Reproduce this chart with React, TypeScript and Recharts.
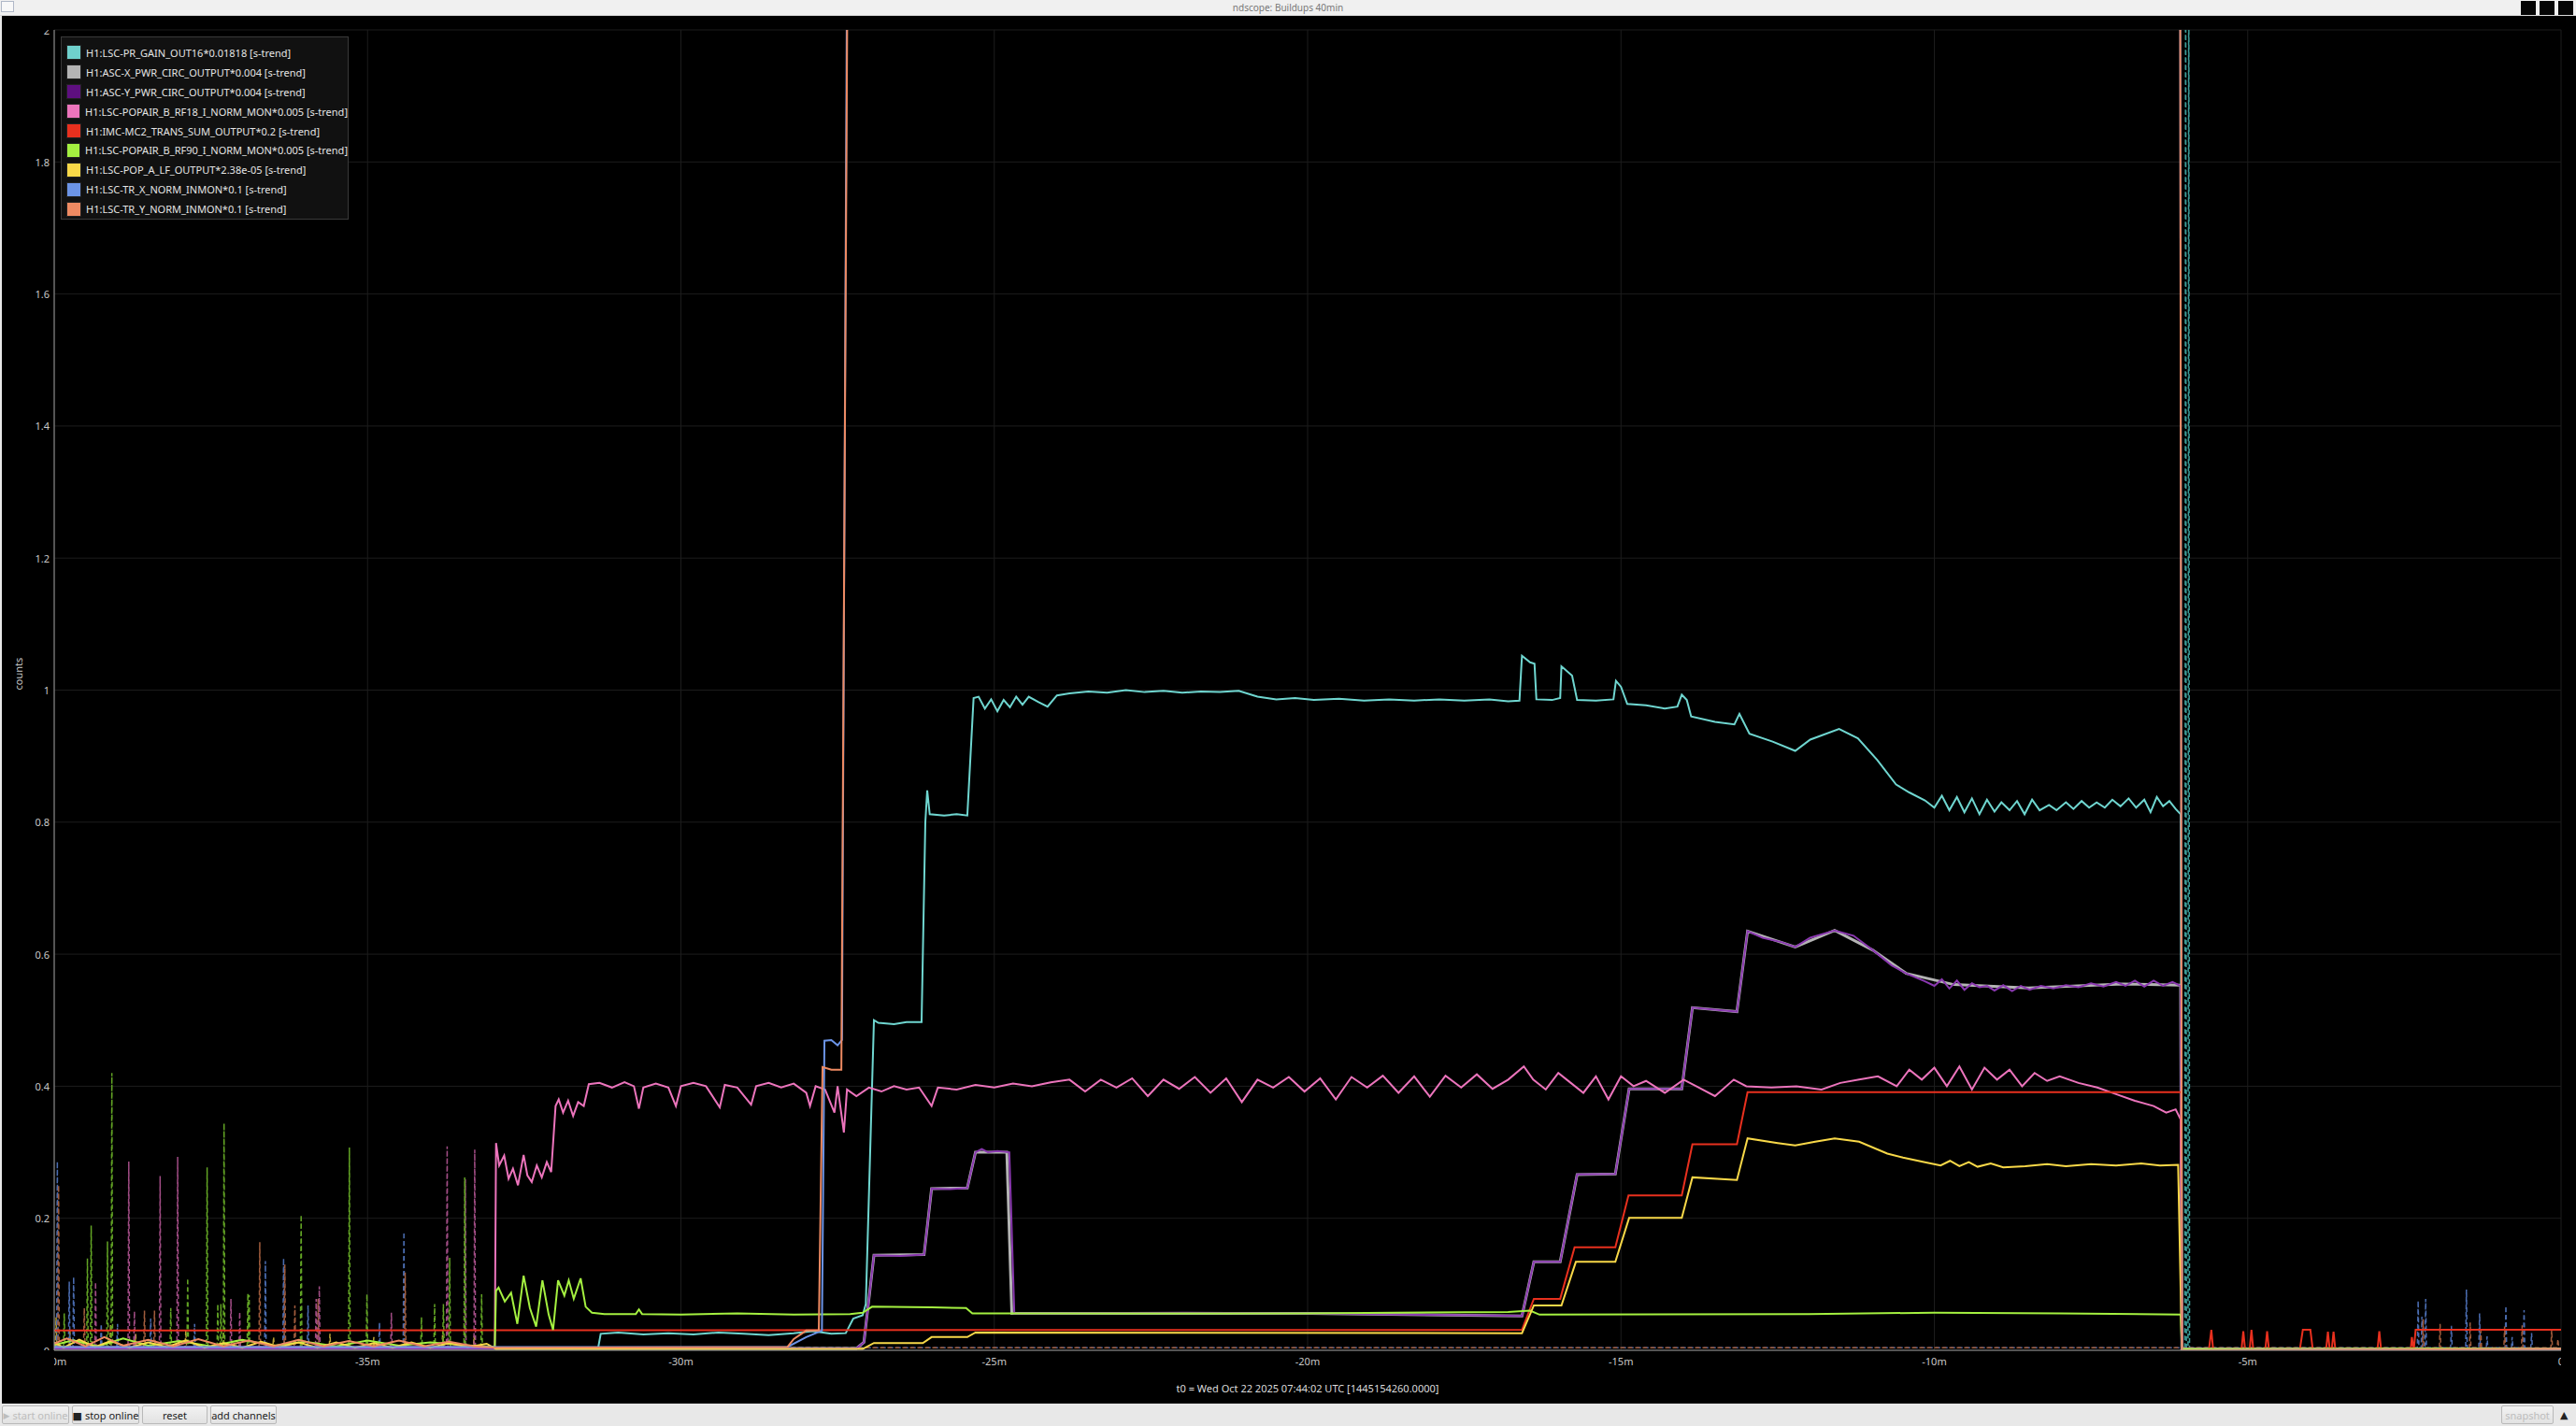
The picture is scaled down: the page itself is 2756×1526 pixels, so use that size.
import React from 'react';
import { LineChart, Line, XAxis, YAxis, CartesianGrid } from 'recharts';

type Pt = [number, number];

// axis ticks (minutes before t0, counts)
const X_TICKS = [-40, -35, -30, -25, -20, -15, -10, -5, 0];
const Y_TICKS = [0, 0.2, 0.4, 0.6, 0.8, 1, 1.2, 1.4, 1.6, 1.8, 2];

const PR_GAIN: Pt[] = [
  [-40, 0.004], [-31.32, 0.004], [-31.28, 0.025], [-31.0, 0.027], [-30.6, 0.024], [-30.2, 0.026],
  [-29.8, 0.024], [-29.4, 0.027], [-29.0, 0.025], [-28.6, 0.023], [-28.2, 0.026], [-27.9, 0.029],
  [-27.6, 0.025], [-27.37, 0.026], [-27.25, 0.048], [-27.1, 0.053], [-27.05, 0.07], [-26.92, 0.5],
  [-26.85, 0.496], [-26.6, 0.494], [-26.4, 0.497], [-26.16, 0.497], [-26.1, 0.8], [-26.07, 0.848],
  [-26.03, 0.812], [-25.8, 0.81], [-25.6, 0.812], [-25.43, 0.81], [-25.33, 0.988], [-25.25, 0.99],
  [-25.15, 0.972], [-25.05, 0.986], [-24.95, 0.968], [-24.85, 0.985], [-24.75, 0.974], [-24.65, 0.99],
  [-24.55, 0.978], [-24.45, 0.99], [-24.3, 0.982], [-24.15, 0.975], [-24.0, 0.992], [-23.8, 0.995],
  [-23.5, 0.998], [-23.2, 0.996], [-22.9, 1.0], [-22.6, 0.997], [-22.3, 0.999], [-22.0, 0.996],
  [-21.7, 0.998], [-21.4, 0.997], [-21.1, 0.999], [-20.8, 0.99], [-20.5, 0.986], [-20.2, 0.988],
  [-19.9, 0.985], [-19.5, 0.987], [-19.1, 0.984], [-18.7, 0.986], [-18.3, 0.984], [-17.9, 0.986],
  [-17.5, 0.984], [-17.1, 0.986], [-16.8, 0.983], [-16.62, 0.984], [-16.58, 1.052], [-16.45, 1.042],
  [-16.38, 1.04], [-16.35, 0.986], [-16.1, 0.985], [-15.97, 0.988], [-15.95, 1.036], [-15.78, 1.022],
  [-15.7, 0.985], [-15.4, 0.984], [-15.12, 0.986], [-15.08, 1.014], [-15.0, 1.005], [-14.9, 0.979],
  [-14.6, 0.977], [-14.3, 0.972], [-14.1, 0.975], [-14.03, 0.993], [-13.95, 0.985], [-13.88, 0.96],
  [-13.5, 0.952], [-13.19, 0.948], [-13.11, 0.964], [-12.95, 0.934], [-12.58, 0.922], [-12.22, 0.908],
  [-11.98, 0.925], [-11.52, 0.941], [-11.22, 0.927], [-10.91, 0.894], [-10.61, 0.857], [-10.4, 0.845],
  [-10.15, 0.833], [-10.0, 0.822], [-9.88, 0.84], [-9.76, 0.818], [-9.64, 0.838], [-9.52, 0.815],
  [-9.4, 0.836], [-9.28, 0.812], [-9.16, 0.834], [-9.04, 0.816], [-8.93, 0.83], [-8.8, 0.818],
  [-8.68, 0.832], [-8.56, 0.812], [-8.44, 0.834], [-8.32, 0.818], [-8.17, 0.826], [-8.05, 0.818],
  [-7.9, 0.83], [-7.78, 0.82], [-7.65, 0.832], [-7.53, 0.822], [-7.41, 0.83], [-7.28, 0.822],
  [-7.16, 0.834], [-7.03, 0.824], [-6.9, 0.836], [-6.78, 0.822], [-6.65, 0.834], [-6.55, 0.815],
  [-6.45, 0.838], [-6.35, 0.824], [-6.25, 0.832], [-6.15, 0.82], [-6.07, 0.812], [-6.05, 0.002],
  [0, 0.003],
];

const ASC_X: Pt[] = [
  [-40, 0.003], [-27.2, 0.003], [-27.08, 0.012], [-26.92, 0.144], [-26.12, 0.145], [-26.0, 0.245],
  [-25.43, 0.246], [-25.3, 0.3], [-24.8, 0.3], [-24.72, 0.056], [-20, 0.056], [-16.58, 0.052],
  [-16.39, 0.134], [-15.97, 0.134], [-15.7, 0.266], [-15.09, 0.267], [-14.87, 0.396], [-14.03, 0.396],
  [-13.86, 0.519], [-13.15, 0.513], [-12.98, 0.635], [-12.22, 0.611], [-11.59, 0.636], [-10.98, 0.606],
  [-10.45, 0.571], [-9.69, 0.554], [-8.5, 0.549], [-7.0, 0.555], [-6.07, 0.553], [-6.05, 0.002],
  [0, 0.002],
];

const ASC_Y: Pt[] = [
  [-40, 0.003], [-27.2, 0.003], [-27.08, 0.012], [-26.92, 0.144], [-26.5, 0.143], [-26.12, 0.145],
  [-26.0, 0.245], [-25.7, 0.244], [-25.43, 0.246], [-25.3, 0.3], [-25.2, 0.305], [-25.1, 0.3],
  [-24.95, 0.302], [-24.76, 0.3], [-24.68, 0.056], [-22, 0.057], [-20, 0.056], [-17.3, 0.053],
  [-16.58, 0.052], [-16.39, 0.134], [-15.97, 0.134], [-15.7, 0.2665], [-15.09, 0.267], [-14.87, 0.396],
  [-14.03, 0.396], [-13.86, 0.519], [-13.5, 0.516], [-13.15, 0.513], [-12.98, 0.635], [-12.74, 0.625],
  [-12.43, 0.618], [-12.22, 0.611], [-11.98, 0.625], [-11.59, 0.636], [-11.29, 0.628], [-10.98, 0.606],
  [-10.68, 0.583], [-10.45, 0.571], [-10.15, 0.559], [-10.0, 0.552], [-9.88, 0.562], [-9.76, 0.548],
  [-9.64, 0.56], [-9.52, 0.546], [-9.4, 0.556], [-9.28, 0.55], [-9.16, 0.552], [-9.04, 0.545],
  [-8.9, 0.553], [-8.76, 0.544], [-8.62, 0.552], [-8.48, 0.546], [-8.3, 0.552], [-8.1, 0.548],
  [-7.9, 0.553], [-7.7, 0.55], [-7.5, 0.556], [-7.3, 0.551], [-7.1, 0.558], [-6.95, 0.552],
  [-6.8, 0.56], [-6.65, 0.551], [-6.5, 0.56], [-6.35, 0.552], [-6.2, 0.558], [-6.07, 0.552],
  [-6.05, 0.002], [0, 0.002],
];

const RF18: Pt[] = [
  [-40, 0.005], [-32.97, 0.005], [-32.95, 0.314], [-32.9, 0.28], [-32.82, 0.295], [-32.75, 0.26],
  [-32.68, 0.275], [-32.6, 0.25], [-32.51, 0.296], [-32.45, 0.265], [-32.38, 0.255], [-32.3, 0.28],
  [-32.22, 0.262], [-32.14, 0.285], [-32.07, 0.27], [-32.0, 0.37], [-31.95, 0.38], [-31.88, 0.36],
  [-31.8, 0.378], [-31.72, 0.355], [-31.64, 0.376], [-31.55, 0.37], [-31.47, 0.403], [-31.3, 0.405],
  [-31.1, 0.398], [-30.9, 0.406], [-30.75, 0.4], [-30.67, 0.366], [-30.6, 0.398], [-30.4, 0.404],
  [-30.2, 0.398], [-30.08, 0.37], [-30.0, 0.4], [-29.8, 0.405], [-29.6, 0.4], [-29.38, 0.368],
  [-29.3, 0.402], [-29.1, 0.398], [-28.88, 0.372], [-28.8, 0.4], [-28.6, 0.405], [-28.4, 0.398],
  [-28.2, 0.404], [-28.0, 0.39], [-27.94, 0.37], [-27.85, 0.4], [-27.7, 0.395], [-27.55, 0.36],
  [-27.5, 0.4], [-27.4, 0.33], [-27.35, 0.395], [-27.2, 0.385], [-27.0, 0.398], [-26.8, 0.392],
  [-26.6, 0.4], [-26.4, 0.395], [-26.2, 0.398], [-26.0, 0.37], [-25.9, 0.398], [-25.6, 0.395],
  [-25.3, 0.402], [-25.0, 0.398], [-24.7, 0.404], [-24.4, 0.4], [-24.1, 0.406], [-23.8, 0.41],
  [-23.55, 0.392], [-23.3, 0.41], [-23.05, 0.398], [-22.8, 0.412], [-22.55, 0.385], [-22.3, 0.41],
  [-22.05, 0.396], [-21.8, 0.414], [-21.55, 0.39], [-21.3, 0.412], [-21.05, 0.376], [-20.8, 0.41],
  [-20.55, 0.398], [-20.3, 0.414], [-20.05, 0.392], [-19.8, 0.412], [-19.55, 0.38], [-19.3, 0.414],
  [-19.05, 0.398], [-18.8, 0.416], [-18.55, 0.39], [-18.3, 0.415], [-18.05, 0.384], [-17.8, 0.416],
  [-17.55, 0.398], [-17.3, 0.418], [-17.05, 0.396], [-16.8, 0.41], [-16.55, 0.43], [-16.4, 0.41],
  [-16.2, 0.395], [-16.0, 0.42], [-15.8, 0.405], [-15.6, 0.39], [-15.4, 0.415], [-15.2, 0.38],
  [-15.0, 0.415], [-14.8, 0.4], [-14.6, 0.408], [-14.3, 0.39], [-14.0, 0.41], [-13.8, 0.4],
  [-13.5, 0.385], [-13.2, 0.41], [-13.0, 0.4], [-12.6, 0.398], [-12.2, 0.4], [-11.8, 0.395],
  [-11.5, 0.405], [-11.2, 0.41], [-10.9, 0.415], [-10.6, 0.4], [-10.4, 0.425], [-10.2, 0.41],
  [-10.0, 0.428], [-9.8, 0.4], [-9.6, 0.43], [-9.4, 0.395], [-9.2, 0.428], [-9.0, 0.41],
  [-8.8, 0.425], [-8.6, 0.4], [-8.4, 0.42], [-8.2, 0.408], [-8.0, 0.415], [-7.7, 0.405],
  [-7.4, 0.398], [-7.1, 0.388], [-6.8, 0.378], [-6.5, 0.37], [-6.3, 0.36], [-6.15, 0.365],
  [-6.07, 0.35], [-6.05, 0.002], [0, 0.002],
];

const MC2_TRANS: Pt[] = [
  [-40, 0.03], [-16.58, 0.031], [-16.39, 0.078], [-15.97, 0.078], [-15.74, 0.156], [-15.09, 0.156],
  [-14.88, 0.2345], [-14.03, 0.2345], [-13.86, 0.312], [-13.15, 0.312], [-12.98, 0.391],
  [-6.06, 0.391], [-6.05, 0.0], [-5.62, 0.0], [-5.58, 0.031], [-5.55, 0.0], [-5.1, 0.0],
  [-5.07, 0.029], [-5.04, 0.0], [-4.97, 0.0], [-4.94, 0.031], [-4.91, 0.0], [-4.72, 0.0],
  [-4.69, 0.029], [-4.66, 0.0], [-4.17, 0.0], [-4.12, 0.031], [-4.0, 0.031], [-3.96, 0.0],
  [-3.75, 0.0], [-3.72, 0.028], [-3.69, 0.0], [-3.66, 0.0], [-3.63, 0.028], [-3.6, 0.0],
  [-2.93, 0.0], [-2.9, 0.029], [-2.87, 0.0], [-2.4, 0.0], [-2.38, 0.02], [-2.35, 0.0],
  [-2.32, 0.031], [0, 0.031],
];

const RF90: Pt[] = [
  [-40, 0.008], [-39.7, 0.015], [-39.3, 0.006], [-38.9, 0.018], [-38.5, 0.007], [-38.0, 0.014],
  [-37.5, 0.006], [-37.0, 0.016], [-36.5, 0.007], [-36.0, 0.013], [-35.5, 0.006], [-35.0, 0.015],
  [-34.5, 0.007], [-34.0, 0.012], [-33.5, 0.008], [-32.97, 0.005], [-32.95, 0.09], [-32.91, 0.095],
  [-32.81, 0.074], [-32.71, 0.087],
  [-32.61, 0.04], [-32.51, 0.113], [-32.41, 0.064], [-32.31, 0.036], [-32.21, 0.106], [-32.11, 0.054],
  [-32.04, 0.031], [-31.96, 0.106], [-31.86, 0.083], [-31.79, 0.106], [-31.71, 0.078], [-31.6, 0.109],
  [-31.52, 0.066], [-31.42, 0.057], [-31.22, 0.055], [-30.72, 0.055], [-30.67, 0.062], [-30.62, 0.055],
  [-30.0, 0.054], [-29.1, 0.056], [-28.2, 0.054], [-27.3, 0.055], [-27.1, 0.057], [-26.95, 0.066],
  [-26.0, 0.065], [-25.45, 0.064], [-25.35, 0.056], [-20, 0.056], [-16.8, 0.058], [-16.45, 0.06],
  [-16.3, 0.054], [-12, 0.055], [-10, 0.057], [-8, 0.056], [-6.07, 0.054], [-6.05, 0.002],
  [0, 0.003],
];

const POP_A_LF: Pt[] = [
  [-40, 0.012], [-39.85, 0.004], [-39.6, 0.016], [-39.35, 0.005], [-39.1, 0.014], [-38.8, 0.004],
  [-38.5, 0.012], [-38.2, 0.005], [-37.9, 0.015], [-37.6, 0.004], [-37.3, 0.011], [-37.0, 0.004],
  [-36.7, 0.013], [-36.4, 0.005], [-36.1, 0.012], [-35.8, 0.004], [-35.5, 0.012], [-35.2, 0.004],
  [-34.9, 0.011], [-34.6, 0.004], [-34.3, 0.012], [-34.0, 0.004], [-33.7, 0.011], [-33.4, 0.005],
  [-33.1, 0.01], [-32.95, 0.002],
  [-27.1, 0.002], [-26.92, 0.011], [-26.14, 0.011], [-26.0, 0.02], [-25.43, 0.02],
  [-25.3, 0.027], [-16.58, 0.026], [-16.39, 0.068], [-15.95, 0.068], [-15.72, 0.134], [-15.09, 0.134],
  [-14.87, 0.2005], [-14.03, 0.2005], [-13.86, 0.262], [-13.15, 0.258], [-12.98, 0.321], [-12.5, 0.314],
  [-12.22, 0.3105], [-11.9, 0.316], [-11.59, 0.321], [-11.2, 0.316], [-10.75, 0.298], [-10.5, 0.292],
  [-10.15, 0.285], [-9.9, 0.28], [-9.75, 0.287], [-9.6, 0.279], [-9.45, 0.285], [-9.31, 0.278],
  [-9.1, 0.283], [-8.9, 0.277], [-8.55, 0.279], [-8.2, 0.282], [-7.9, 0.279], [-7.5, 0.282],
  [-7.1, 0.28], [-6.7, 0.283], [-6.4, 0.28], [-6.11, 0.281], [-6.05, 0.0], [0, 0.002],
];

const TR_X: Pt[] = [
  [-40, 0.005], [-28.3, 0.005], [-28.0, 0.02], [-27.75, 0.03], [-27.71, 0.469], [-27.6, 0.47],
  [-27.5, 0.462], [-27.43, 0.47], [-27.34, 2.3], [-6.08, 2.3], [-6.05, 0.0], [0, 0.002],
];

const TR_Y: Pt[] = [
  [-40, 0.01], [-39.8, 0.018], [-39.5, 0.006], [-39.2, 0.02], [-38.9, 0.007], [-38.5, 0.016],
  [-38.1, 0.006], [-37.7, 0.017], [-37.3, 0.006], [-36.9, 0.015], [-36.5, 0.006], [-36.1, 0.016],
  [-35.7, 0.006], [-35.3, 0.014], [-34.9, 0.006], [-34.5, 0.015], [-34.1, 0.006], [-33.7, 0.013],
  [-33.3, 0.006], [-32.95, 0.004],
  [-28.3, 0.005], [-28.2, 0.017], [-28.0, 0.03], [-27.8, 0.03], [-27.74, 0.429],
  [-27.6, 0.425], [-27.44, 0.425], [-27.33, 2.3], [-6.08, 2.3], [-6.05, 0.0], [0, 0.002],
];

// peaks of the min/max (dashed) traces in the noisy stretches
const RF90_PEAKS: Pt[] = [
  [-39.84, 0.056], [-39.47, 0.139], [-39.41, 0.189], [-39.15, 0.165], [-39.08, 0.42], [-38.14, 0.064],
  [-37.87, 0.109], [-37.56, 0.277], [-37.39, 0.07], [-37.34, 0.07], [-37.29, 0.344], [-36.91, 0.086],
  [-36.89, 0.084], [-36.06, 0.205], [-35.29, 0.307], [-35.01, 0.085], [-34.14, 0.05], [-33.93, 0.07],
  [-33.79, 0.07], [-33.69, 0.14], [-33.45, 0.262], [-33.18, 0.085],
];
const RF18_PEAKS: Pt[] = [
  [-39.34, 0.103], [-38.81, 0.286], [-38.72, 0.059], [-38.31, 0.264], [-38.03, 0.293], [-37.18, 0.078],
  [-37.04, 0.058], [-35.82, 0.078], [-35.77, 0.097], [-34.62, 0.057], [-33.73, 0.309], [-33.44, 0.259],
  [-33.29, 0.304],
];
const TR_X_PEAKS: Pt[] = [
  [-39.95, 0.286], [-39.76, 0.104], [-39.69, 0.111], [-39.25, 0.04], [-38.99, 0.04], [-38.46, 0.048],
  [-37.76, 0.04], [-36.63, 0.135], [-36.34, 0.139], [-35.95, 0.068], [-34.81, 0.042], [-34.42, 0.179],
  [-2.28, 0.075], [-2.22, 0.051], [-2.16, 0.078], [-1.75, 0.037], [-1.51, 0.092], [-1.3, 0.056],
  [-1.18, 0.021], [-0.88, 0.067], [-0.78, 0.02], [-0.59, 0.061], [-0.47, 0.026],
];
const TR_Y_PEAKS: Pt[] = [
  [-39.93, 0.25], [-39.52, 0.064], [-38.56, 0.06], [-38.4, 0.06], [-36.72, 0.164], [-36.32, 0.13],
  [-36.16, 0.068], [-35.79, 0.078], [-34.4, 0.118],
  [-2.2, 0.047], [-1.93, 0.04], [-1.45, 0.042], [-1.28, 0.03], [-0.9, 0.036], [-0.62, 0.038],
  [-0.15, 0.031], [-0.05, 0.017],
];
const POP_A_LF_PEAKS: Pt[] = [
  [-39.97, 0.05], [-39.75, 0.03], [-39.1, 0.04], [-38.7, 0.025], [-37.9, 0.03], [-37.3, 0.028],
  [-36.5, 0.02], [-35.6, 0.025], [-34.9, 0.02], [-33.8, 0.03], [-33.3, 0.022],
];
const PR_GAIN_PEAKS: Pt[] = [[-5.99, 2.3], [-5.94, 2.3]];

const CHANNELS = [
  { name: 'H1:LSC-PR_GAIN_OUT16*0.01818 [s-trend]', color: '#6fd6d0', swatch: '#6fd0cc', data: PR_GAIN },
  { name: 'H1:ASC-X_PWR_CIRC_OUTPUT*0.004 [s-trend]', color: '#b4b4b4', swatch: '#b4b4b4', data: ASC_X },
  { name: 'H1:ASC-Y_PWR_CIRC_OUTPUT*0.004 [s-trend]', color: '#8a38b0', swatch: '#5e0f80', data: ASC_Y },
  { name: 'H1:LSC-POPAIR_B_RF18_I_NORM_MON*0.005 [s-trend]', color: '#ec74bc', swatch: '#ec74bc', data: RF18 },
  { name: 'H1:IMC-MC2_TRANS_SUM_OUTPUT*0.2 [s-trend]', color: '#e8301e', swatch: '#e8301e', data: MC2_TRANS },
  { name: 'H1:LSC-POPAIR_B_RF90_I_NORM_MON*0.005 [s-trend]', color: '#a4f040', swatch: '#a4f040', data: RF90 },
  { name: 'H1:LSC-POP_A_LF_OUTPUT*2.38e-05 [s-trend]', color: '#f8d848', swatch: '#f8d848', data: POP_A_LF },
  { name: 'H1:LSC-TR_X_NORM_INMON*0.1 [s-trend]', color: '#6c94e6', swatch: '#6c94e6', data: TR_X },
  { name: 'H1:LSC-TR_Y_NORM_INMON*0.1 [s-trend]', color: '#ee8a62', swatch: '#ee8a62', data: TR_Y },
];

const SPIKES = [
  { key: 'cyanMax', color: '#3c9c98', data: PR_GAIN_PEAKS },
  { key: 'yellowMax', color: '#b8a034', data: POP_A_LF_PEAKS },
  { key: 'blueMax', color: '#4a6cb0', data: TR_X_PEAKS },
  { key: 'orangeMax', color: '#a05c3c', data: TR_Y_PEAKS },
  { key: 'pinkMax', color: '#a04c84', data: RF18_PEAKS },
  { key: 'greenMax', color: '#62a424', data: RF90_PEAKS },
];

const toRows = (pts: Pt[]) => pts.map(([t, v]) => ({ t, v }));
const toSpikeRows = (pts: Pt[]) =>
  pts.flatMap(([t, v]) => [{ t: t - 0.012, v: 0.004 }, { t, v }, { t: t + 0.012, v: 0.004 }]);

const W = 2756;
const CHART_TOP = 17;
const CHART_H = 1485;
const PLOT_L = 58;
const PLOT_R = 2740;
const PLOT_T = 15;
const PLOT_B = 1428;
const FONT = '"Noto Sans", "DejaVu Sans", sans-serif';

function XTick(props: any) {
  const { x, y, payload, index } = props;
  const v = payload.value;
  const id = `xclip${index}`;
  return (
    <g>
      <defs>
        <clipPath id={id}>
          <rect x={PLOT_L} y={PLOT_B} width={PLOT_R - PLOT_L} height={CHART_H - PLOT_B} />
        </clipPath>
      </defs>
      <text x={x} y={y + 11} fill="#c8c8c8" fontSize={11} fontFamily={FONT}
        textAnchor="middle" dominantBaseline="central" clipPath={`url(#${id})`}>
        {v === 0 ? '0' : `${v}m`}
      </text>
    </g>
  );
}

function YTick(props: any) {
  const { x, y, payload, index } = props;
  const v = payload.value;
  const id = `yclip${index}`;
  return (
    <g>
      <defs>
        <clipPath id={id}>
          <rect x={0} y={PLOT_T} width={PLOT_L} height={PLOT_B - PLOT_T} />
        </clipPath>
      </defs>
      <text x={x - 5} y={y} fill="#c8c8c8" fontSize={11} fontFamily={FONT}
        textAnchor="end" dominantBaseline="central" clipPath={`url(#${id})`}>
        {String(Number(v.toFixed(1)))}
      </text>
    </g>
  );
}

function Button({ label, left, width, disabled, icon }: { label: string; left: number; width: number; disabled?: boolean; icon?: string }) {
  return (
    <div style={{
      position: 'absolute', left, top: 1504, width, height: 20, boxSizing: 'border-box',
      border: '1px solid #b9b9b9', borderRadius: 2, background: 'linear-gradient(#f2f2f2, #e2e2e2)',
      color: disabled ? '#bdbdbd' : '#222', fontSize: 11, fontFamily: FONT,
      display: 'flex', alignItems: 'center', justifyContent: 'center', gap: 3, whiteSpace: 'nowrap',
    }}>
      {icon && <span style={{ fontSize: icon === '■' ? 11 : 9 }}>{icon}</span>}
      {label}
    </div>
  );
}

export default function App() {
  return (
    <div style={{ position: 'absolute', left: 0, top: 0, width: W, height: 1526, background: '#e8e8e8', overflow: 'hidden', fontFamily: FONT }}>
      {/* window title bar */}
      <div style={{ position: 'absolute', left: 0, top: 0, width: W, height: CHART_TOP, background: '#f0f0f0', borderBottom: '1px solid #d8d8d8', boxSizing: 'border-box' }}>
        <div style={{ position: 'absolute', left: 1, top: 1, width: 14, height: 12, border: '1px solid #b0b8c8', background: '#f8f8f8', boxSizing: 'border-box' }} />
        <div style={{ position: 'absolute', left: 0, width: W, top: 1, textAlign: 'center', fontSize: 10, color: '#777' }}>
          ndscope: Buildups 40min
        </div>
        {[2697, 2717, 2737].map(l => (
          <div key={l} style={{ position: 'absolute', left: l, top: 1, width: 16, height: 15, background: '#050505' }} />
        ))}
      </div>

      {/* plot area */}
      <div style={{ position: 'absolute', left: 2, top: CHART_TOP, width: W - 2, height: CHART_H, background: '#000' }} />
      <div style={{ position: 'absolute', left: 0, top: CHART_TOP }}>
        <LineChart width={W} height={CHART_H} margin={{ top: PLOT_T, right: W - PLOT_R, bottom: 0, left: 0 }}>
          <CartesianGrid stroke="#1c1c1c" strokeWidth={1} />
          <XAxis
            dataKey="t" type="number" domain={[-40, 0]} ticks={X_TICKS} allowDataOverflow
            height={CHART_H - PLOT_B} tickSize={0} tickMargin={0} tickLine={false}
            axisLine={{ stroke: '#9a9a9a' }} tick={<XTick />} interval={0}
            label={{ value: 't0 = Wed Oct 22 2025 07:44:02 UTC [1445154260.0000]', position: 'insideBottom', offset: 12, fill: '#dcdcdc', fontSize: 11, fontFamily: FONT }}
          />
          <YAxis
            dataKey="v" type="number" domain={[0, 2]} ticks={Y_TICKS} allowDataOverflow
            width={PLOT_L} tickSize={0} tickMargin={0} tickLine={false}
            axisLine={{ stroke: '#9a9a9a' }} tick={<YTick />} interval={0}
            label={{ value: 'counts', angle: -90, position: 'insideLeft', offset: 20, fill: '#c8c8c8', fontSize: 11, fontFamily: FONT }}
          />
          {SPIKES.map(s => (
            <Line key={s.key} data={toSpikeRows(s.data)} dataKey="v" type="linear" stroke={s.color}
              strokeWidth={1.5} strokeDasharray="5 3" dot={false} activeDot={false} isAnimationActive={false} />
          ))}
          {CHANNELS.map(c => (
            <Line key={c.name} data={toRows(c.data)} dataKey="v" name={c.name} type="linear" stroke={c.color}
              strokeWidth={c.data === ASC_X ? 3 : 2} dot={false} activeDot={false} isAnimationActive={false} />
          ))}
        </LineChart>
      </div>

      {/* legend */}
      <div style={{
        position: 'absolute', left: 65, top: 39, width: 308, height: 196, boxSizing: 'border-box',
        background: '#111', border: '1px solid #3a3a3a', padding: '6px 0 0 5px',
      }}>
        {CHANNELS.map(c => (
          <div key={c.name} style={{ height: 20.9, display: 'flex', alignItems: 'center', gap: 5 }}>
            <div style={{ width: 16, height: 16, background: c.swatch, border: '1px solid #222', boxSizing: 'border-box' }} />
            <span style={{ color: '#e4e4e4', fontSize: 11, whiteSpace: 'nowrap' }}>{c.name}</span>
          </div>
        ))}
      </div>

      {/* bottom toolbar */}
      <Button label="start online" left={2} width={72} disabled icon="▶" />
      <Button label="stop online" left={77} width={72} icon="■" />
      <Button label="reset" left={152} width={70} />
      <Button label="add channels" left={225} width={71} />
      <Button label="snapshot" left={2676} width={56} disabled />
      <div style={{ position: 'absolute', left: 2739, top: 1506, fontSize: 11, color: '#222' }}>▲</div>
    </div>
  );
}
